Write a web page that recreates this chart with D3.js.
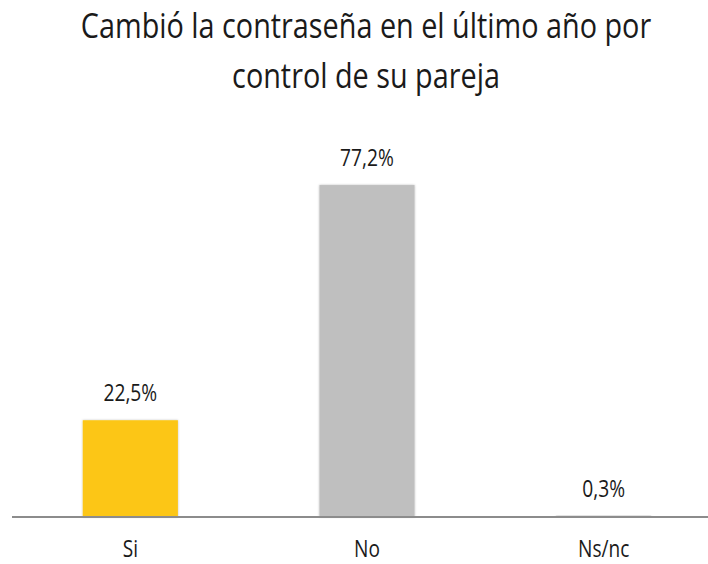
<!DOCTYPE html>
<html lang="es">
<head>
    <meta charset="utf-8">
    <style type="text/css">
        body { margin: 0; background: #fff; }
        text { font-family: "Open Sans", "Noto Sans", sans-serif; fill: #1a1a1a; }
        .axis-line { stroke: #8c8c8c; stroke-width: 2px; }
    </style>
</head>
<body>
<svg width="708" height="564"></svg>

<script src="https://cdn.jsdelivr.net/npm/d3@7"></script>

<script type="text/javascript">
    // data
    var categories = ["Si", "No", "Ns/nc"];
    var values = [22.5, 77.2, 0.3];
    var valueLabels = ["22,5%", "77,2%", "0,3%"];
    var barColors = ["#fcc614", "#bfbfbf", "#bfbfbf"];
    var titleLines = ["Cambió la contraseña en el último año por", "control de su pareja"];

    var svg = d3.select("svg"),
        width = +svg.attr("width"),
        height = +svg.attr("height"),
        squeeze = 0.8;   // the reference font is narrow

    var x = d3.scaleBand()
        .domain(categories)
        .range([12, 722])
        .paddingInner(0.598)
        .paddingOuter(0.299);

    var y = d3.scaleLinear()
        .domain([0, 100])
        .range([517, 87]);

    var defs = svg.append("defs");
    var shadow = defs.append("filter")
        .attr("id", "shadow")
        .attr("x", "-10%").attr("y", "-10%")
        .attr("width", "120%").attr("height", "120%");
    shadow.append("feDropShadow")
        .attr("dx", 0).attr("dy", 0)
        .attr("stdDeviation", 1.2)
        .attr("flood-color", "#000")
        .attr("flood-opacity", 0.25);

    // title
    svg.selectAll(".title")
        .data(titleLines)
        .enter()
        .append("text")
        .attr("class", "title")
        .attr("text-anchor", "middle")
        .attr("font-size", 34)
        .attr("transform", function (d, i) {
            return "translate(366," + (38 + i * 50) + ") scale(0.847,1)";
        })
        .text(function (d) { return d; });

    // bars
    svg.selectAll(".bar")
        .data(values)
        .enter()
        .append("rect")
        .attr("class", "bar")
        .attr("x", function (d, i) { return x(categories[i]); })
        .attr("width", x.bandwidth())
        .attr("y", function (d) { return y(d); })
        .attr("height", function (d) { return y(0) - y(d); })
        .attr("fill", function (d, i) { return barColors[i]; })
        .attr("filter", "url(#shadow)");

    // baseline
    svg.append("line")
        .attr("class", "axis-line")
        .attr("x1", 12)
        .attr("x2", width)
        .attr("y1", y(0))
        .attr("y2", y(0));

    // value labels
    svg.selectAll(".value")
        .data(values)
        .enter()
        .append("text")
        .attr("class", "value")
        .attr("text-anchor", "middle")
        .attr("font-size", 24)
        .attr("transform", function (d, i) {
            var cx = x(categories[i]) + x.bandwidth() / 2;
            return "translate(" + cx + "," + (y(d) - 19) + ") scale(" + squeeze + ",1)";
        })
        .text(function (d, i) { return valueLabels[i]; });

    // category labels
    svg.selectAll(".cat")
        .data(categories)
        .enter()
        .append("text")
        .attr("class", "cat")
        .attr("text-anchor", "middle")
        .attr("font-size", 23)
        .attr("transform", function (d) {
            var cx = x(d) + x.bandwidth() / 2;
            return "translate(" + cx + ",557) scale(0.83,1)";
        })
        .text(function (d) { return d; });
</script>

</body>
</html>
